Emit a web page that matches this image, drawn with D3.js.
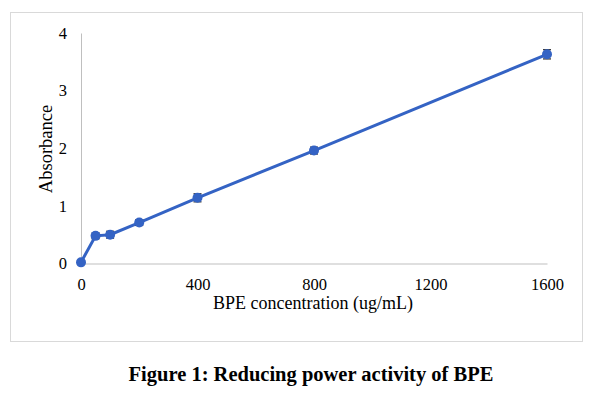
<!DOCTYPE html>
<html>
<head>
<meta charset="utf-8">
<script src="https://cdn.jsdelivr.net/npm/d3@7"></script>
<style>
  body { margin: 0; background: #fff; }
  svg { display: block; font-family: "Liberation Serif", "Times New Roman", serif; }
</style>
</head>
<body>
<div id="chart"></div>
<script>
// values
const concentrations = [0, 50, 100, 200, 400, 800, 1600];
const absorbance = [0.02, 0.48, 0.50, 0.71, 1.14, 1.96, 3.63];
const errors = [0.01, 0.05, 0.06, 0.05, 0.07, 0.06, 0.08];
const xTicks = [0, 400, 800, 1200, 1600];
const yTicks = [0, 1, 2, 3, 4];

const svgWidth = 592, svgHeight = 398;
const margin = { top: 33, right: 46, bottom: 134.5, left: 81 };
const width = 547 - margin.left, height = 263.5 - margin.top;

const svg = d3.select('#chart').append('svg')
  .attr('width', svgWidth)
  .attr('height', svgHeight);

// chart frame
svg.append('rect')
  .attr('x', 10.5).attr('y', 12.5)
  .attr('width', 572).attr('height', 329)
  .attr('fill', 'none')
  .attr('stroke', '#d9d9d9');

const g = svg.append('g').attr('transform', `translate(${margin.left},${margin.top})`);

const x = d3.scaleLinear().domain([0, 1600]).range([0, width]);
const y = d3.scaleLinear().domain([0, 4]).range([height, 0]);

const xAxis = g.append('g')
  .attr('transform', `translate(0,${height})`)
  .call(d3.axisBottom(x).tickValues(xTicks).tickSize(0).tickPadding(15).tickFormat(d3.format('d')));
xAxis.select('.domain').attr('stroke', '#bfbfbf');

const yAxis = g.append('g')
  .call(d3.axisLeft(y).tickValues(yTicks).tickSize(0).tickPadding(14).tickFormat(d3.format('d')));
yAxis.select('.domain').attr('stroke', '#bfbfbf');

g.selectAll('.tick text')
  .attr('font-family', '"Liberation Serif", serif')
  .attr('font-size', 16.5)
  .attr('fill', '#000');

// axis titles
svg.append('text')
  .attr('x', 313).attr('y', 309)
  .attr('text-anchor', 'middle')
  .attr('font-size', 18)
  .text('BPE concentration (ug/mL)');

svg.append('text')
  .attr('transform', 'translate(52,149) rotate(-90)')
  .attr('text-anchor', 'middle')
  .attr('font-size', 18.5)
  .text('Absorbance');

const data = concentrations.map((c, i) => ({ c: c, v: absorbance[i], e: errors[i] }));
const blue = '#3463c4';

g.append('path')
  .datum(data)
  .attr('fill', 'none')
  .attr('stroke', blue)
  .attr('stroke-width', 3)
  .attr('d', d3.line().x(d => x(d.c)).y(d => y(d.v)));

// error bars
const err = g.selectAll('.err').data(data).enter().append('g').attr('class', 'err')
  .attr('stroke', '#262626').attr('stroke-width', 1.2);
err.append('line')
  .attr('x1', d => x(d.c)).attr('x2', d => x(d.c))
  .attr('y1', d => y(d.v - d.e)).attr('y2', d => y(d.v + d.e));
err.append('line')
  .attr('x1', d => x(d.c) - 4).attr('x2', d => x(d.c) + 4)
  .attr('y1', d => y(d.v - d.e)).attr('y2', d => y(d.v - d.e));
err.append('line')
  .attr('x1', d => x(d.c) - 4).attr('x2', d => x(d.c) + 4)
  .attr('y1', d => y(d.v + d.e)).attr('y2', d => y(d.v + d.e));

g.selectAll('.pt').data(data).enter().append('circle')
  .attr('class', 'pt')
  .attr('cx', d => x(d.c))
  .attr('cy', d => y(d.v))
  .attr('r', 5)
  .attr('fill', blue);

svg.append('text')
  .attr('x', 311).attr('y', 381)
  .attr('text-anchor', 'middle')
  .attr('font-size', 20.5)
  .attr('font-weight', 'bold')
  .text('Figure 1: Reducing power activity of BPE');
</script>
</body>
</html>
